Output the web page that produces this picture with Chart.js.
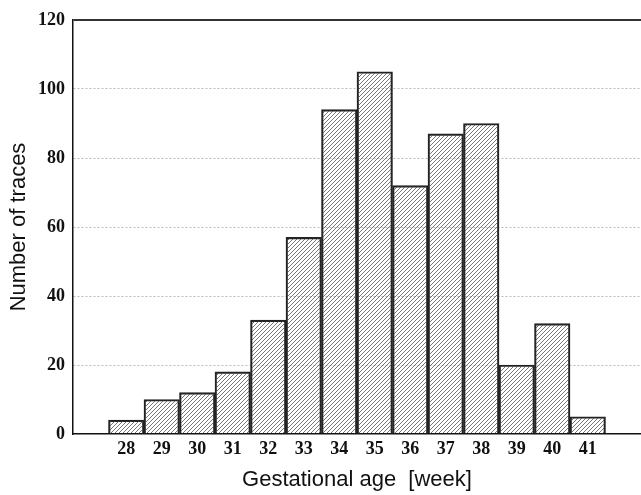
<!DOCTYPE html>
<html>
<head>
<meta charset="utf-8">
<script src="https://cdn.jsdelivr.net/npm/chart.js@4/dist/chart.umd.min.js"></script>
<style>
  html, body { margin: 0; padding: 0; background: #fff; }
  #wrap { width: 641px; height: 495px; }
</style>
</head>
<body>
<div id="wrap"><canvas id="grafico"></canvas></div>
<script>
// semanas de gestacion y numero de trazos
const semanas = [28, 29, 30, 31, 32, 33, 34, 35, 36, 37, 38, 39, 40, 41];
const trazos = [4, 10, 12, 18, 33, 57, 94, 105, 72, 87, 90, 20, 32, 5];
const ticksY = [0, 20, 40, 60, 80, 100, 120];

// una categoria vacia a cada lado (27 y 42) para dejar el hueco del eje
const etiquetas = ['', ...semanas.map(String), ''];
const valores = [null, ...trazos, null];

const hacerRayado = () => {
    const c = document.createElement('canvas');
    c.width = 4; c.height = 4;
    const g = c.getContext('2d');
    g.strokeStyle = '#555';
    g.lineWidth = 0.8;
    g.beginPath();
    g.moveTo(-1, 5); g.lineTo(5, -1);
    g.moveTo(-1, 1); g.lineTo(1, -1);
    g.moveTo(3, 5); g.lineTo(5, 3);
    g.stroke();
    return g.createPattern(c, 'repeat');
};

const fuenteTicks = { family: '"Liberation Serif", "Times New Roman", serif', size: 18, weight: 'bold' };
const fuenteTitulo = { family: '"Liberation Sans", Arial, sans-serif', size: 22 };

new Chart(document.getElementById('grafico'), {
    type: 'bar',
    data: {
        labels: etiquetas,
        datasets: [{
            data: valores,
            backgroundColor: hacerRayado(),
            borderColor: '#222',
            borderWidth: 1.5,
            barPercentage: 1,
            categoryPercentage: 1
        }]
    },
    options: {
        responsive: true,
        maintainAspectRatio: false,
        animation: false,
        layout: { padding: { top: 20, right: 0, left: 0, bottom: 0 } },
        plugins: { legend: { display: false }, tooltip: { enabled: false } },
        scales: {
            x: {
                offset: true,
                grid: { display: false, drawTicks: false },
                border: { display: true, color: '#111', width: 1.5 },
                ticks: { color: '#111', font: fuenteTicks, padding: 5, autoSkip: false, maxRotation: 0 },
                title: { display: true, text: 'Gestational age  [week]', color: '#111', font: fuenteTitulo, padding: { top: 0, bottom: 2 } },
                afterFit: (s) => { s.height = 61; }
            },
            y: {
                min: 0,
                max: 120,
                afterBuildTicks: (s) => { s.ticks = ticksY.map(v => ({ value: v })); },
                grid: {
                    drawTicks: false,
                    color: (ctx) => ctx.tick && ctx.tick.value === 120 ? '#333' : (ctx.tick && ctx.tick.value === 0 ? 'rgba(0,0,0,0)' : '#bbb'),
                    lineWidth: (ctx) => ctx.tick && ctx.tick.value === 120 ? 2 : 1
                },
                border: {
                    display: true, color: '#111', width: 1.5,
                    dash: (ctx) => ctx.tick && ctx.tick.value === 120 ? [] : [2, 2]
                },
                ticks: { color: '#111', font: fuenteTicks, padding: 8 },
                title: { display: true, text: 'Number of traces', color: '#111', font: fuenteTitulo, padding: { top: 6, bottom: 0 } },
                afterFit: (s) => { s.width = 73; }
            }
        }
    }
});
</script>
</body>
</html>
